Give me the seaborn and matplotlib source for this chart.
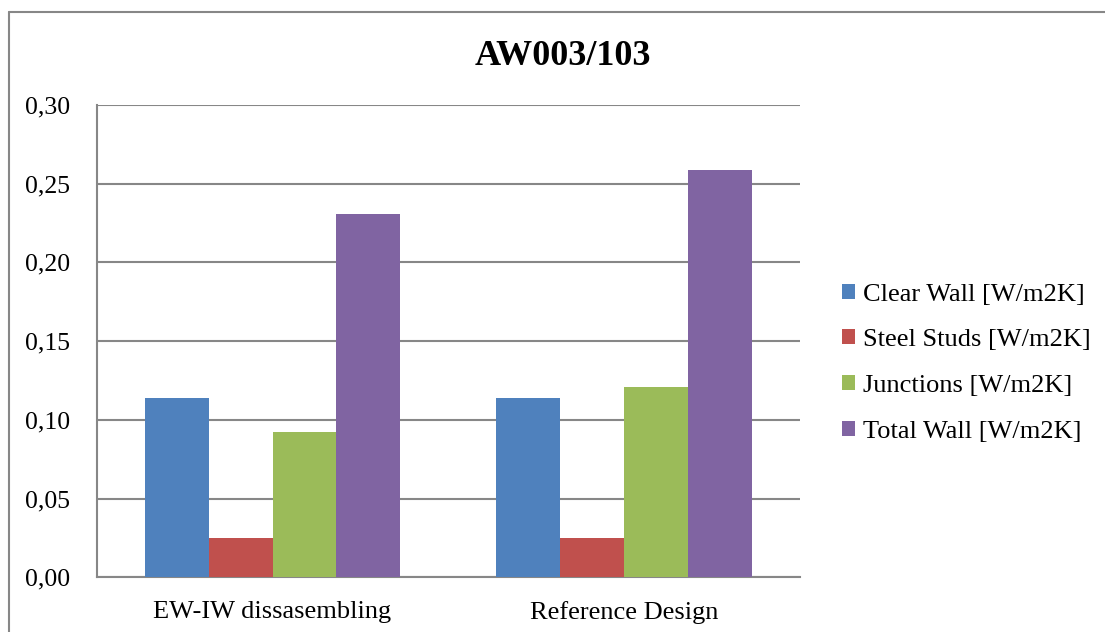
import matplotlib
matplotlib.use("Agg")
import matplotlib.pyplot as plt
from matplotlib.lines import Line2D
from matplotlib.ticker import FuncFormatter, MultipleLocator
import seaborn as sns
import pandas as pd

# Data
designs = ["EW-IW dissasembling", "Reference Design"]
components = ["Clear Wall [W/m2K]", "Steel Studs [W/m2K]",
              "Junctions [W/m2K]", "Total Wall [W/m2K]"]
clear_wall = [0.114, 0.114]
steel_studs = [0.025, 0.025]
junctions = [0.092, 0.121]
total_wall = [0.231, 0.259]
colors = ["#4F81BD", "#C0504D", "#9BBB59", "#8064A2"]
title = "AW003/103"

rows = []
for comp, vals in zip(components, [clear_wall, steel_studs, junctions, total_wall]):
    for d, v in zip(designs, vals):
        rows.append({"design": d, "component": comp, "value": v})
df = pd.DataFrame(rows)

sns.set_theme(style="white")
plt.rcParams["font.family"] = ["Liberation Serif", "DejaVu Serif"]
plt.rcParams["text.color"] = "black"
plt.rcParams["xtick.color"] = "black"
plt.rcParams["ytick.color"] = "black"

W, H = 1105, 632
fig = plt.figure(figsize=(W / 100, H / 100), dpi=100)
ax = fig.add_axes([96.7 / W, 1 - 577.3 / H, (800 - 96.7) / W, (577.3 - 105) / H])

sns.barplot(data=df, x="design", y="value", hue="component",
            order=designs, hue_order=components, palette=colors,
            width=0.727, gap=0, saturation=1, edgecolor="none",
            errorbar=None, ax=ax, legend=False, zorder=3)

grid_c = "#878787"
ax.set_ylim(0, 0.30)
ax.set_xlim(-0.5, 1.5)
ax.yaxis.set_major_locator(MultipleLocator(0.05))
ax.yaxis.set_major_formatter(FuncFormatter(lambda v, p: f"{v:.2f}".replace(".", ",")))
ax.yaxis.grid(True, color=grid_c, linewidth=1.5, zorder=0)
ax.set_axisbelow(True)
for s in ["top", "right"]:
    ax.spines[s].set_visible(False)
for s in ["left", "bottom"]:
    ax.spines[s].set_color(grid_c)
    ax.spines[s].set_linewidth(1.5)
ax.tick_params(axis="both", length=0, colors="black")
ax.tick_params(axis="y", pad=19, labelsize=18.5)
ax.tick_params(axis="x", pad=17, labelsize=19)
ax.set_xlabel("")
ax.set_ylabel("")

# Legend
handles = [plt.Rectangle((0, 0), 1, 1, facecolor=c, edgecolor="none") for c in colors]
leg = fig.legend(handles, components, loc="upper left",
                 bbox_to_anchor=(831 / W, 1 - 273 / H), frameon=False,
                 fontsize=19, handlelength=0.5, handleheight=0.5,
                 handletextpad=0.3, labelspacing=0.9, borderaxespad=0)
for t in leg.get_texts():
    t.set_color("black")

# Title
fig.text(562.5 / W, 1 - 65 / H, title, ha="center", va="baseline",
         fontsize=26, fontweight="bold", color="black")

# Chart area border
fig.add_artist(Line2D([9 / W, 9 / W], [0, 1 - 12 / H], color=grid_c,
                      linewidth=1.5, transform=fig.transFigure))
fig.add_artist(Line2D([9 / W, 1], [1 - 12 / H, 1 - 12 / H], color=grid_c,
                      linewidth=1.5, transform=fig.transFigure))

fig.savefig("out.png", dpi=100)
